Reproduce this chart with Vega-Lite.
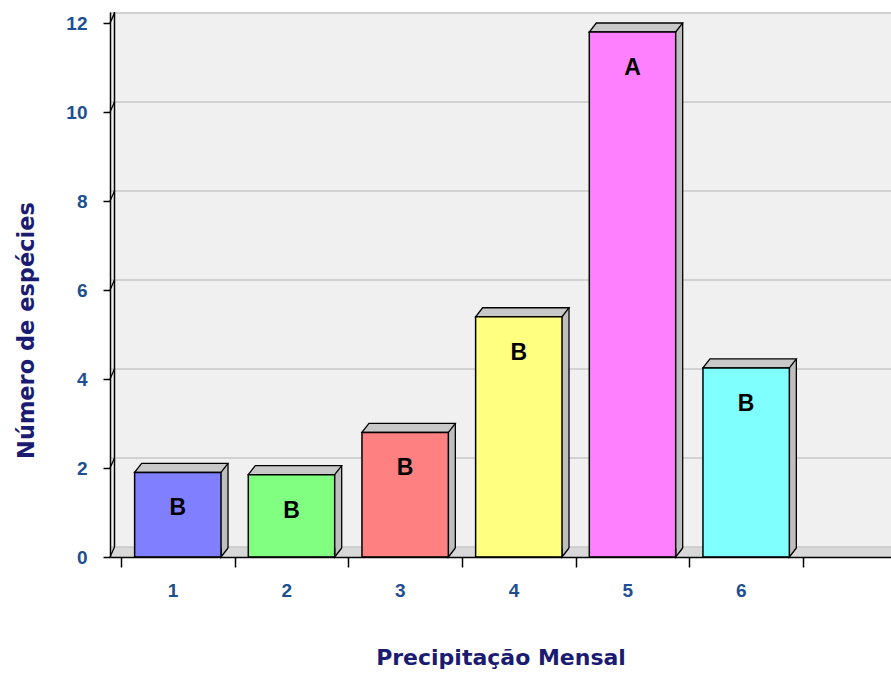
{
  "$schema": "https://vega.github.io/schema/vega-lite/v6.json",
  "width": 781,
  "height": 545,
  "autosize": "none",
  "padding": {"left": 110, "top": 12, "right": 0, "bottom": 116},
  "background": "white",
  "config": {
    "view": {"fill": "#f0f0f0", "stroke": null},
    "font": "DejaVu Sans"
  },
  "datasets": {
    "barras": [
      {"mes": "1", "especies": 1.9, "grupo": "B"},
      {"mes": "2", "especies": 1.85, "grupo": "B"},
      {"mes": "3", "especies": 2.8, "grupo": "B"},
      {"mes": "4", "especies": 5.4, "grupo": "B"},
      {"mes": "5", "especies": 11.8, "grupo": "A"},
      {"mes": "6", "especies": 4.25, "grupo": "B"}
    ],
    "grade": [
      {"v": 0}, {"v": 2}, {"v": 4}, {"v": 6}, {"v": 8}, {"v": 10}, {"v": 12}
    ],
    "piso": [{"v": 0}]
  },
  "layer": [
    {
      "data": {"name": "piso"},
      "mark": {"type": "rule", "color": "#d8d8d8", "strokeWidth": 10, "yOffset": -5},
      "encoding": {"y": {"field": "v", "type": "quantitative"}}
    },
    {
      "data": {"name": "grade"},
      "mark": {"type": "rule", "color": "#c8c8c8", "strokeWidth": 1.5, "xOffset": 4.5, "x2Offset": 4.5, "yOffset": -10},
      "encoding": {"y": {"field": "v", "type": "quantitative"}}
    },
    {
      "data": {"name": "grade"},
      "mark": {"type": "rule", "color": "black", "strokeWidth": 1.3, "xOffset": -11, "x2Offset": -6.5, "y2Offset": -10},
      "encoding": {
        "x": {"datum": "1", "bandPosition": 0},
        "x2": {"datum": "1", "bandPosition": 0},
        "y": {"field": "v", "type": "quantitative"},
        "y2": {"field": "v"}
      }
    },
    {
      "data": {"name": "piso"},
      "mark": {"type": "rule", "color": "black", "strokeWidth": 1.5, "xOffset": -6.5, "yOffset": -10, "y2Offset": -11},
      "encoding": {
        "x": {"datum": "1", "bandPosition": 0},
        "y": {"field": "v", "type": "quantitative"},
        "y2": {"datum": 12}
      }
    },
    {
      "data": {"name": "barras"},
      "mark": {"type": "bar", "width": 7, "xOffset": 46.7, "yOffset": -9, "y2Offset": -9, "fill": "#bebebe", "strokeWidth": 0},
      "encoding": {
        "x": {"field": "mes", "type": "nominal"},
        "y": {"field": "especies", "type": "quantitative"}
      }
    },
    {
      "data": {"name": "barras"},
      "mark": {"type": "rule", "color": "black", "strokeWidth": 1.3, "xOffset": 50.2, "yOffset": -9, "y2Offset": -9},
      "encoding": {
        "x": {"field": "mes", "type": "nominal"},
        "y": {"field": "especies", "type": "quantitative"},
        "y2": {"datum": 0}
      }
    },
    {
      "data": {"name": "barras"},
      "mark": {"type": "point", "shape": "M0.864,-0.18L0.864,0L1.004,-0.18", "size": 10000, "filled": true, "fill": "#bebebe", "stroke": "black", "strokeWidth": 1.3, "opacity": 1},
      "encoding": {
        "x": {"field": "mes", "type": "nominal"},
        "y": {"datum": 0}
      }
    },
    {
      "data": {"name": "barras"},
      "mark": {"type": "point", "shape": "M-0.864,0L0.864,0L1.004,-0.18L-0.724,-0.18Z", "size": 10000, "filled": true, "fill": "#c8c8c8", "stroke": "black", "strokeWidth": 1.3, "opacity": 1},
      "encoding": {
        "x": {"field": "mes", "type": "nominal"},
        "y": {"field": "especies", "type": "quantitative"}
      }
    },
    {
      "data": {"name": "barras"},
      "mark": {"type": "bar", "width": {"band": 0.76}, "stroke": "black", "strokeWidth": 1.5, "opacity": 1},
      "encoding": {
        "x": {
          "field": "mes",
          "type": "nominal",
          "scale": {"type": "band", "domain": ["1", "2", "3", "4", "5", "6"], "paddingInner": 0, "paddingOuter": 0.4355, "align": 0.111},
          "axis": {
            "title": "Precipitação Mensal",
            "tickBand": "extent",
            "labelAngle": 0,
            "domainColor": "black",
            "domainWidth": 1.5,
            "tickColor": "black",
            "tickWidth": 1.5,
            "tickSize": 10,
            "labelFont": "Liberation Sans",
            "labelFontSize": 19,
            "labelFontWeight": "bold",
            "labelColor": "#1d4f91",
            "labelPadding": 23,
            "titleFont": "DejaVu Sans",
            "titleFontSize": 22,
            "titleFontWeight": "bold",
            "titleColor": "#1b1b72",
            "titlePadding": 47,
            "zindex": 1
          }
        },
        "y": {
          "field": "especies",
          "type": "quantitative",
          "scale": {"domain": [0, 12.25], "nice": false, "zero": true},
          "axis": {
            "title": "Número de espécies",
            "values": [0, 2, 4, 6, 8, 10, 12],
            "grid": false,
            "domainColor": "black",
            "domainWidth": 1.5,
            "tickColor": "black",
            "tickWidth": 1.5,
            "tickSize": 7,
            "labelFont": "Liberation Sans",
            "labelFontSize": 19,
            "labelFontWeight": "bold",
            "labelColor": "#1d4f91",
            "labelPadding": 16,
            "titleFont": "DejaVu Sans",
            "titleFontSize": 22.5,
            "titleFontWeight": "bold",
            "titleColor": "#1b1b72",
            "titlePadding": 27,
            "titleY": 318,
            "zindex": 1
          }
        },
        "color": {
          "field": "mes",
          "type": "nominal",
          "scale": {"domain": ["1", "2", "3", "4", "5", "6"], "range": ["#7f7fff", "#80ff80", "#ff8080", "#ffff80", "#ff80ff", "#80ffff"]},
          "legend": null
        }
      }
    },
    {
      "data": {"name": "barras"},
      "mark": {"type": "text", "dy": 36, "baseline": "middle", "align": "center", "font": "Liberation Sans", "fontSize": 23, "fontWeight": "bold", "color": "black"},
      "encoding": {
        "x": {"field": "mes", "type": "nominal"},
        "y": {"field": "especies", "type": "quantitative"},
        "text": {"field": "grupo"}
      }
    }
  ]
}
